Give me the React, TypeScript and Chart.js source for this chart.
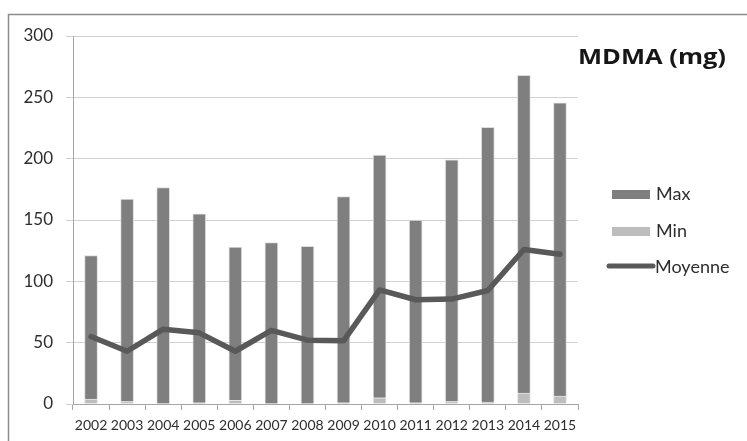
import React, { useEffect, useRef } from "react";
import { Chart, registerables } from "chart.js";

Chart.register(...registerables);

const categories = ["2002","2003","2004","2005","2006","2007","2008","2009","2010","2011","2012","2013","2014","2015"];
const minValues = [4, 2, 0.5, 1, 3, 0.5, 0.5, 1, 5, 1, 2, 1.5, 9, 6.5];
const maxValues = [117, 165, 176, 154, 125, 131, 128, 168, 198, 149, 197, 224, 259, 239];
const moyenneValues = [55, 43, 61, 58, 43, 60, 52, 51.5, 93, 85, 85.5, 92.5, 126, 122];
const yTicks = [0, 50, 100, 150, 200, 250, 300];
const titleText = "MDMA (mg)";
const legendLabels = ["Max", "Min", "Moyenne"];

const FONT = "Lato, 'Open Sans', sans-serif";
const TEXT = "#2e2e2e";

const decorPlugin = {
  id: "decor",
  beforeDraw(chart: any) {
    const ctx = chart.ctx;
    ctx.save();
    ctx.strokeStyle = "#8c8c8c";
    ctx.lineWidth = 1.5;
    ctx.beginPath();
    ctx.moveTo(8.5, 441);
    ctx.lineTo(8.5, 14.5);
    ctx.lineTo(747, 14.5);
    ctx.stroke();
    ctx.restore();
  },
  afterDraw(chart: any) {
    const ctx = chart.ctx;
    ctx.save();
    // title, stretched to the reference width
    ctx.fillStyle = "#161616";
    ctx.font = `bold 22px 'Open Sans', ${FONT}`;
    ctx.textBaseline = "alphabetic";
    ctx.textAlign = "left";
    const w = ctx.measureText(titleText).width;
    const sx = 148 / w;
    ctx.save();
    ctx.translate(578, 63.5);
    ctx.scale(sx, 1);
    ctx.fillText(titleText, 0, 0);
    ctx.restore();

    ctx.font = `18px ${FONT}`;
    // Max
    ctx.fillStyle = "#7f7f7f";
    ctx.fillRect(612, 190, 38, 9);
    ctx.fillStyle = TEXT;
    ctx.fillText(legendLabels[0], 656, 200);
    // Min
    ctx.fillStyle = "#bdbdbd";
    ctx.fillRect(612, 227, 38, 9);
    ctx.fillStyle = TEXT;
    ctx.fillText(legendLabels[1], 656, 237);
    // Moyenne
    ctx.strokeStyle = "#595959";
    ctx.lineWidth = 5;
    ctx.lineCap = "round";
    ctx.beginPath();
    ctx.moveTo(609, 266);
    ctx.lineTo(653, 266);
    ctx.stroke();
    ctx.fillStyle = TEXT;
    ctx.fillText(legendLabels[2], 655, 272.5);
    ctx.restore();
  },
};

export default function App() {
  const ref = useRef<HTMLCanvasElement | null>(null);
  useEffect(() => {
    document.body.style.margin = "0";
    const canvas = ref.current!;
    const chart = new Chart(canvas, {
      type: "bar",
      data: {
        labels: categories,
        datasets: [
          {
            type: "line",
            label: "Moyenne",
            data: moyenneValues,
            borderColor: "#595959",
            borderWidth: 5.5,
            pointRadius: 0,
            tension: 0,
            stack: "line",
            order: 0,
            borderJoinStyle: "round",
            borderCapStyle: "round",
          } as any,
          {
            label: "Min",
            data: minValues,
            backgroundColor: "#bdbdbd",
            borderColor: "#e6e6e6",
            borderWidth: 1,
            barThickness: 13,
            stack: "bars",
            order: 1,
          },
          {
            label: "Max",
            data: maxValues,
            backgroundColor: "#7f7f7f",
            borderColor: "#dedede",
            borderWidth: 1,
            barThickness: 13,
            stack: "bars",
            order: 1,
          },
        ],
      },
      options: {
        animation: false,
        responsive: false,
        maintainAspectRatio: false,
        layout: { padding: { left: 0, right: 169, top: 36, bottom: 0 } },
        plugins: {
          legend: { display: false },
          title: { display: false },
          tooltip: { enabled: false },
        },
        scales: {
          x: {
            stacked: true,
            afterFit(scale: any) { scale.height = 37; },
            grid: {
              display: true,
              offset: true,
              drawOnChartArea: false,
              drawTicks: true,
              tickLength: 6,
              color: "#a6a6a6",
            },
            border: { display: true, color: "#a6a6a6", width: 1 },
            ticks: {
              color: TEXT,
              font: { family: FONT, size: 14 },
              padding: 7,
              maxRotation: 0,
              autoSkip: false,
            },
          },
          y: {
            stacked: true,
            min: 0,
            max: 300,
            afterFit(scale: any) { scale.width = 73; },
            afterBuildTicks(scale: any) { scale.ticks = yTicks.map((v) => ({ value: v })); },
            grid: {
              color: "#d0d0d0",
              tickLength: 7,
              lineWidth: 1,
            },
            border: { display: true, color: "#a6a6a6", width: 1 },
            ticks: {
              color: TEXT,
              font: { family: FONT, size: 17 },
              padding: 13,
            },
          },
        },
      },
      plugins: [decorPlugin],
    });
    return () => chart.destroy();
  }, []);
  return (
    <div style={{ position: "relative", width: 747, height: 441 }}>
      <canvas ref={ref} width={747} height={441} style={{ display: "block", width: 747, height: 441 }} />
    </div>
  );
}
